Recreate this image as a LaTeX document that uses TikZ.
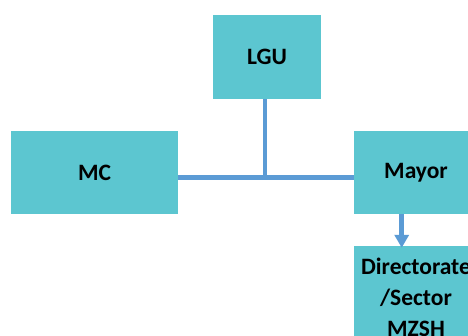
\documentclass[tikz,border=0pt]{standalone}
\usepackage{fontspec}
\setmainfont{Carlito}
\usetikzlibrary{arrows.meta}
\definecolor{boxfill}{HTML}{5CC6D0}
\definecolor{linkblue}{HTML}{5B9BD5}
\begin{document}
\begin{tikzpicture}[x=1pt,y=-1pt,
  unit/.style={rectangle, fill=boxfill, draw=none, inner sep=0pt,
    font=\fontsize{23.5}{31}\selectfont\bfseries, text=black, align=center},
  link/.style={draw=linkblue, line width=4.5pt},
  flow/.style={draw=linkblue, line width=4.5pt,
    -{Triangle[width=14pt,length=13pt]}}]
  \useasboundingbox (0,0) rectangle (468,335);
  \begin{scope}
    \clip (0,0) rectangle (468,335);
    % organisational units
    \node[unit, minimum width=108pt, minimum height=84pt] (lgu) at (267,57) {LGU};
    \node[unit, minimum width=167pt, minimum height=83pt] (mc) at (94.5,172.5) {MC};
    \node[unit, minimum width=124pt, minimum height=83pt] (mayor) at (416,172.5) {Mayor};
    \node[unit, minimum width=124pt, minimum height=102pt] (dir) at (416,297)
      {Directorate\\/Sector\\MZSH};
    % connectors
    \coordinate (j) at (265,177.5);
    \coordinate (a) at (401.7,0);
    \draw[link] (mc.east |- j) -- (mayor.west |- j);
    \draw[link] (j) -- (j |- lgu.south);
    \draw[flow, shorten >=-2pt] (mayor.south -| a) -- (dir.north -| a);
  \end{scope}
\end{tikzpicture}
\end{document}
